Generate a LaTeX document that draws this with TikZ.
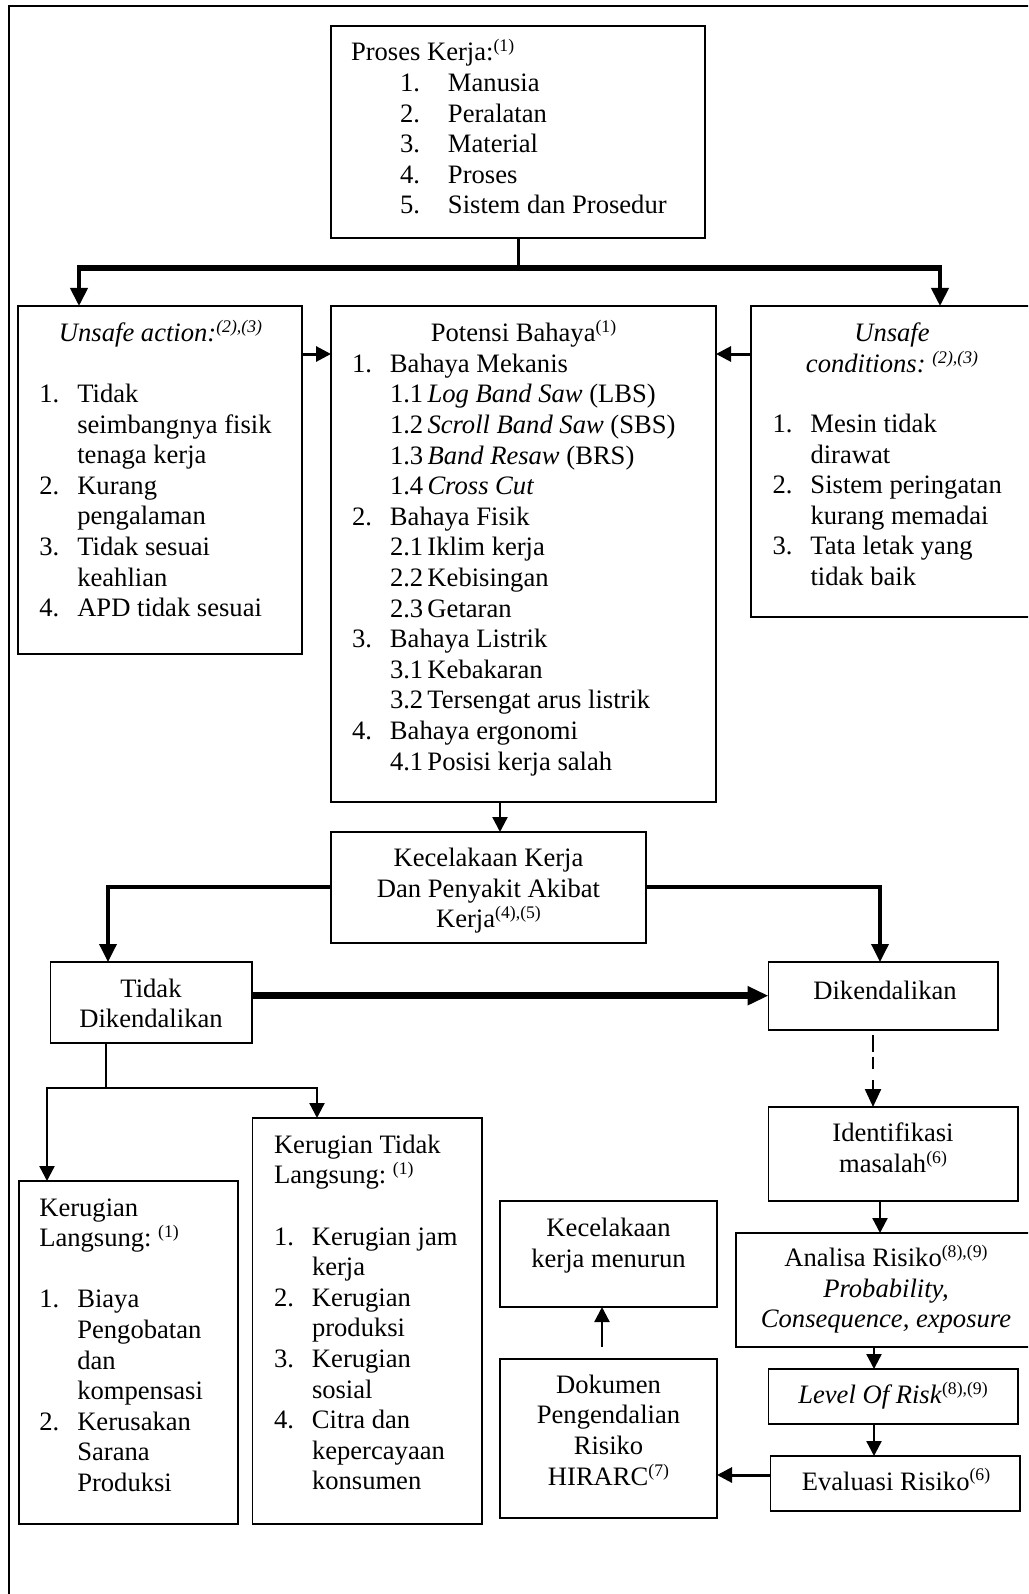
\documentclass[tikz,border=0pt]{standalone}
\usepackage{fontspec}
\setmainfont{Liberation Serif}
\usetikzlibrary{arrows.meta}
\newcommand\refsup[1]{\raisebox{0.34em}{\fontsize{17.7}{18}\selectfont #1}}
\newcommand\nb[1]{\makebox[38pt][l]{#1}}
\newcommand\ind{\hspace*{38pt}}
\newcommand\subnum[1]{\makebox[37.5pt][l]{#1}}
\begin{document}
\begin{tikzpicture}[x=1pt,y=-1pt,
  box/.style={draw, line width=1.8pt, inner sep=0pt, outer sep=0pt, anchor=north west},
  txt/.style={inner sep=0pt, outer sep=0pt, font=\fontsize{26.6}{30.6}\selectfont},
  ctxt/.style={txt, anchor=base},
  ltxt/.style={txt, anchor=base west},
  ln/.style={line width=2.3pt},
  arrA/.style={-{Triangle[length=15pt,width=15pt]}},
  arrB/.style={-{Triangle[length=18pt,width=17pt]}},
  arrC/.style={-{Triangle[length=21pt,width=18pt]}},
  arrD/.style={-{Triangle[length=18pt,width=16pt]}}
]
\useasboundingbox (0,0) rectangle (1028,1594);
\clip (0,0) rectangle (1028,1594);
\draw[line width=2pt] (9,1600) -- (9,6.5) -- (1040,6.5);

% boxes
\node[box, minimum width=374pt, minimum height=212pt] (A) at (331,26) {};
\node[box, minimum width=284pt, minimum height=348pt] (B) at (18,306) {};
\node[box, minimum width=385pt, minimum height=496pt] (C) at (331,306) {};
\node[box, minimum width=282pt, minimum height=311pt] (D) at (751,306) {};
\node[box, minimum width=315pt, minimum height=111pt] (E) at (331,832) {};
\node[box, minimum width=201.5pt, minimum height=81pt] (F) at (50.5,962) {};
\node[box, minimum width=229.5pt, minimum height=68pt] (G) at (768.5,962) {};
\node[box, minimum width=219pt, minimum height=343pt] (H) at (19,1181) {};
\node[box, minimum width=229.5pt, minimum height=406pt] (I) at (252.5,1118) {};
\node[box, minimum width=217pt, minimum height=106pt] (J) at (500,1201) {};
\node[box, minimum width=217pt, minimum height=159pt] (K) at (500,1359) {};
\node[box, minimum width=249.5pt, minimum height=94pt] (L) at (768.5,1107) {};
\node[box, minimum width=299pt, minimum height=114pt] (M) at (736,1233) {};
\node[box, minimum width=249.5pt, minimum height=55pt] (N) at (768.5,1369) {};
\node[box, minimum width=249.5pt, minimum height=55pt] (O) at (770.5,1456) {};

% texts
\node[ltxt] (tA) at (351,61) {\begin{tabular}[t]{@{}l@{}}Proses Kerja:\refsup{(1)}\\
\hspace*{49pt}\makebox[48pt][l]{1.}Manusia\\
\hspace*{49pt}\makebox[48pt][l]{2.}Peralatan\\
\hspace*{49pt}\makebox[48pt][l]{3.}Material\\
\hspace*{49pt}\makebox[48pt][l]{4.}Proses\\
\hspace*{49pt}\makebox[48pt][l]{5.}Sistem dan Prosedur\end{tabular}};

\node[ctxt] (tB1) at (160.5,341.7) {\textit{Unsafe action:}\refsup{\textit{(2),(3)}}};
\node[ltxt] (tB2) at (39.3,402.5) {\begin{tabular}[t]{@{}l@{}}\nb{1.}Tidak\\
\ind seimbangnya fisik\\
\ind tenaga kerja\\
\nb{2.}Kurang\\
\ind pengalaman\\
\nb{3.}Tidak sesuai\\
\ind keahlian\\
\nb{4.}APD tidak sesuai\end{tabular}};

\node[ctxt] (tC1) at (523.5,341.7) {Potensi Bahaya\refsup{(1)}};
\node[ltxt] (tC2) at (352,372.3) {\begin{tabular}[t]{@{}l@{}}\nb{1.}Bahaya Mekanis\\
\ind\subnum{1.1}\textit{Log Band Saw} (LBS)\\
\ind\subnum{1.2}\textit{Scroll Band Saw} (SBS)\\
\ind\subnum{1.3}\textit{Band Resaw} (BRS)\\
\ind\subnum{1.4}\textit{Cross Cut}\\
\nb{2.}Bahaya Fisik\\
\ind\subnum{2.1}Iklim kerja\\
\ind\subnum{2.2}Kebisingan\\
\ind\subnum{2.3}Getaran\\
\nb{3.}Bahaya Listrik\\
\ind\subnum{3.1}Kebakaran\\
\ind\subnum{3.2}Tersengat arus listrik\\
\nb{4.}Bahaya ergonomi\\
\ind\subnum{4.1}Posisi kerja salah\end{tabular}};

\node[ctxt] (tD1) at (892,341.7) {\begin{tabular}[t]{@{}c@{}}\textit{Unsafe}\\ \textit{conditions:}~\refsup{\textit{(2),(3)}}\end{tabular}};
\node[ltxt] (tD2) at (772.5,432.5) {\begin{tabular}[t]{@{}l@{}}\nb{1.}Mesin tidak\\
\ind dirawat\\
\nb{2.}Sistem peringatan\\
\ind kurang memadai\\
\nb{3.}Tata letak yang\\
\ind tidak baik\end{tabular}};

\node[ctxt] (tE) at (488.5,866.7) {\begin{tabular}[t]{@{}c@{}}Kecelakaan Kerja\\ Dan Penyakit Akibat\\ Kerja\refsup{(4),(5)}\end{tabular}};
\node[ctxt] (tF) at (151,997.3) {\begin{tabular}[t]{@{}c@{}}Tidak\\ Dikendalikan\end{tabular}};
\node[ctxt] (tG) at (885,999.3) {Dikendalikan};

\node[ltxt] (tH) at (39.3,1216) {\begin{tabular}[t]{@{}l@{}}Kerugian\\
Langsung:~\refsup{(1)}\\
\\
\nb{1.}Biaya\\
\ind Pengobatan\\
\ind dan\\
\ind kompensasi\\
\nb{2.}Kerusakan\\
\ind Sarana\\
\ind Produksi\end{tabular}};

\node[ltxt] (tI) at (274,1153.3) {\begin{tabular}[t]{@{}l@{}}Kerugian Tidak\\
Langsung:~\refsup{(1)}\\
\\
\nb{1.}Kerugian jam\\
\ind kerja\\
\nb{2.}Kerugian\\
\ind produksi\\
\nb{3.}Kerugian\\
\ind sosial\\
\nb{4.}Citra dan\\
\ind kepercayaan\\
\ind konsumen\end{tabular}};

\node[ctxt] (tJ) at (608.5,1236.7) {\begin{tabular}[t]{@{}c@{}}Kecelakaan\\ kerja menurun\end{tabular}};
\node[ctxt] (tK) at (608.5,1393.3) {\begin{tabular}[t]{@{}c@{}}Dokumen\\ Pengendalian\\ Risiko\\ HIRARC\refsup{(7)}\end{tabular}};
\node[ctxt] (tL) at (893,1141.7) {\begin{tabular}[t]{@{}c@{}}Identifikasi\\ masalah\refsup{(6)}\end{tabular}};
\node[ctxt] (tM) at (886,1266.7) {\begin{tabular}[t]{@{}c@{}}Analisa Risiko\refsup{(8),(9)}\\ \textit{Probability,}\\ \textit{Consequence, exposure}\end{tabular}};
\node[ctxt] (tN) at (893,1403.3) {\textit{Level Of Risk}\refsup{(8),(9)}};
\node[ctxt] (tO) at (896,1490) {Evaluasi Risiko\refsup{(6)}};

% helper coordinates
\coordinate (barL) at (79,268);
\coordinate (barR) at (940,268);
\coordinate (yBC) at (0,354);
\coordinate (xCE) at (500,0);
\coordinate (yE) at (0,887);
\coordinate (xF) at (108,0);
\coordinate (xG) at (880,0);
\coordinate (yFG) at (0,995.7);
\coordinate (xFs) at (106,0);
\coordinate (yHI) at (0,1088);
\coordinate (xH) at (47,0);
\coordinate (xI) at (317,0);
\coordinate (xGL) at (873,0);
\coordinate (xLM) at (880,0);
\coordinate (xMO) at (874,0);
\coordinate (yOK) at (0,1475);
\coordinate (xKJ) at (602,0);

% connectors
\draw[line width=3pt] (A.south) -- (A.south |- barL);
\draw[line width=5.5pt] ([xshift=-2pt]barL) -- ([xshift=2pt]barR);
\draw[line width=4pt, arrB] (barL) -- (barL |- B.north);
\draw[line width=4pt, arrB] (barR) -- (barR |- D.north);
\draw[line width=3pt, arrA] (B.east |- yBC) -- (C.west |- yBC);
\draw[line width=3pt, arrA] (D.west |- yBC) -- (C.east |- yBC);
\draw[ln, arrA] (C.south -| xCE) -- (E.north -| xCE);
\draw[line width=3.5pt, arrB] (E.west |- yE) -- (xF |- yE) -- (xF |- F.north);
\draw[line width=3.5pt, arrB] (E.east |- yE) -- (xG |- yE) -- (xG |- G.north);
\draw[line width=6.5pt, arrC] (F.east |- yFG) -- (G.west |- yFG);
\draw[ln] (F.south -| xFs) -- (xFs |- yHI);
\draw[ln, arrA] (xFs |- yHI) -- (xH |- yHI) -- (xH |- H.north);
\draw[ln, arrA] (xFs |- yHI) -- (xI |- yHI) -- (xI |- I.north);
\draw[ln, arrD, dash pattern=on 0pt off 5pt on 16.7pt off 5pt on 12.3pt off 11pt on 60pt] (G.south -| xGL) -- (L.north -| xGL);
\draw[ln, arrA] (L.south -| xLM) -- (M.north -| xLM);
\draw[ln, arrA] (M.south -| xMO) -- (N.north -| xMO);
\draw[ln, arrA] (N.south -| xMO) -- (O.north -| xMO);
\draw[line width=3pt, arrA] (O.west |- yOK) -- (K.east |- yOK);
\draw[ln, arrA] ([yshift=12pt]K.north -| xKJ) -- (J.south -| xKJ);
\end{tikzpicture}
\end{document}
